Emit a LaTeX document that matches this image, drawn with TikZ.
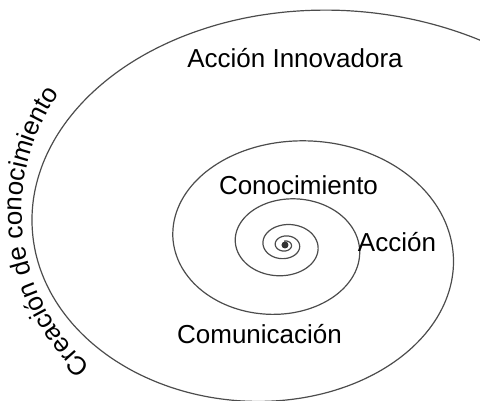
\documentclass[tikz,border=0pt]{standalone}
\usepackage{fontspec}
\setmainfont{Liberation Sans}
\usetikzlibrary{decorations.text}
\newcommand{\lblfont}{\fontsize{19.5}{23}\selectfont}
\tikzset{
    lbl/.style={anchor=base,inner sep=0pt,font=\lblfont},
    spiralline/.style={black!70,line width=0.9pt}
}

\begin{document}
\begin{tikzpicture}[x=0.75pt,y=0.75pt]
        \useasboundingbox (0,0) rectangle (480,401);
        \clip (0,0) rectangle (480,401);
        \def\k{0.0022526}
        \draw [spiralline,domain=50:1900,samples=700,smooth,variable=\t] plot ({285+376.7*exp(-\k*\t)*cos(\t)},{156+285.4*exp(-\k*\t)*sin(\t)});
        \fill [black!80] (285,156) circle[radius=3.5];
        \node[lbl] (innov) at (295,334) {Acción Innovadora};
        \node[lbl] (conoc) at (298.5,206) {Conocimiento};
        \node[lbl] (accion) at (397,149.3) {Acción};
        \node[lbl] (comun) at (259.5,57.7) {Comunicación};
        % curved label
        \path [decorate,decoration={text along path,text align=center,text={|\lblfont|Creación de conocimiento}}] (229,189) ++(246.6:207) arc[start angle=246.6,end angle=126.6,radius=207];
    \end{tikzpicture}
\end{document}
